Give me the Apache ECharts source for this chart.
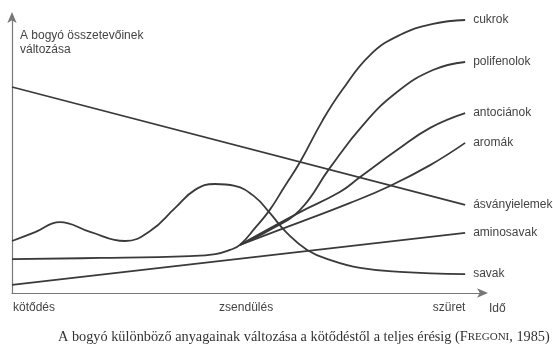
<!DOCTYPE html>
<html>
<head>
<meta charset="utf-8">
<script src="https://cdn.jsdelivr.net/npm/echarts@6/dist/echarts.min.js"></script>
<style>
html,body{margin:0;padding:0;background:#fff;}
#container1{width:553px;height:351px;}
</style>
</head>
<body>
<div id="container1"></div>
<script>
// idő (x) és változás (y) értékek, 0-100 skálán
var cukrok=[[0,12.2],[18.6,12.6],[37.6,13.3],[43.0,14.0],[46.1,15.5],[48.2,17.3],[51.4,23.4],[54.5,29.9],[57.7,38.5],[60.9,47.1],[65.7,62.2],[69.8,73.0],[75.7,85.6],[82.0,92.8],[89.0,96.8],[95.8,98.2]];
var polifenolok=[[48.2,17.3],[54.5,22.7],[60.9,29.9],[67.2,45.0],[74.2,60.4],[81.4,72.3],[89.0,80.2],[95.8,83.1]];
var antocianok=[[48.2,17.3],[60.9,29.1],[69.3,36.3],[73.6,41.7],[81.4,51.4],[88.4,59.4],[95.8,64.7]];
var aromak=[[48.2,17.3],[60.9,25.5],[71.5,32.4],[79.9,38.5],[88.4,46.0],[95.8,54.0]];
var asvanyielemek=[[0,74.1],[95.8,31.7]];
var aminosavak=[[0,2.9],[95.8,21.6]];
var savak=[[0,18.7],[4.9,21.9],[10.1,25.5],[16.5,22.0],[23.9,18.7],[29.2,22.3],[34.5,30.6],[38.7,37.1],[42.9,39.2],[47.1,38.5],[51.4,34.5],[54.5,28.8],[58.1,21.6],[62.4,15.5],[67.2,11.9],[73.6,9.0],[82.0,7.6],[95.8,6.8]];

var seriesNames=['cukrok','polifenolok','antociánok','aromák','ásványielemek','aminosavak','savak'];
var seriesData=[cukrok,polifenolok,antocianok,aromak,asvanyielemek,aminosavak,savak];

var timeNames=['kötődés','zsendülés','szüret'];
var timeValues=[4.65,49.5,92.4];

var textColor='#444';
var lineColor='#3a3a3a';
var font='"Liberation Sans", Arial, sans-serif';

var series=[];
for(var i=0;i<seriesNames.length;++i){
	series.push({
		name:seriesNames[i],
		type:'line',
		smooth:0.45,
		symbol:'none',
		data:seriesData[i],
		lineStyle:{color:lineColor,width:1.8},
		endLabel:{
			show:true,
			formatter:'{a}',
			distance:8,
			color:textColor,
			fontSize:12,
			fontFamily:font
		}
	});
}

var myChart=echarts.init(document.getElementById('container1'));
var option={
	animation:false,
	backgroundColor:'#fff',
	grid:{left:12,right:68,top:15,bottom:58},
	xAxis:{
		type:'value',
		min:0,
		max:100,
		name:'Idő',
		nameLocation:'end',
		nameGap:4,
		nameTextStyle:{color:textColor,fontSize:12,fontFamily:font,verticalAlign:'top',padding:[10,0,0,0]},
		axisLine:{show:true,lineStyle:{color:'#777',width:1.2},symbol:['none','arrow'],symbolSize:[7,11],symbolOffset:[0,3]},
		axisTick:{show:false},
		splitLine:{show:false},
		axisLabel:{
			customValues:timeValues,
			margin:9,
			color:textColor,
			fontSize:12,
			fontFamily:font,
			formatter:function(v){
				for(var k=0;k<timeValues.length;++k){
					if(Math.abs(timeValues[k]-v)<0.01) return timeNames[k];
				}
				return '';
			}
		}
	},
	yAxis:{
		type:'value',
		min:0,
		max:100,
		name:'A bogyó összetevőinek\nváltozása',
		nameLocation:'end',
		nameGap:-14,
		nameTextStyle:{color:textColor,fontSize:12,fontFamily:font,align:'left',verticalAlign:'top',lineHeight:14,padding:[0,0,0,8]},
		axisLine:{show:true,lineStyle:{color:'#777',width:1.2},symbol:['none','arrow'],symbolSize:[7,11],symbolOffset:[0,3]},
		axisTick:{show:false},
		axisLabel:{show:false},
		splitLine:{show:false}
	},
	graphic:[{
		type:'text',
		left:58,
		top:330,
		style:{
			text:'A bogyó különböző anyagainak változása a kötődéstől a teljes érésig ({a|F}{b|REGONI}, 1985)',
			fill:'#333',
			font:'14.3px "Liberation Serif", "Times New Roman", serif',
			rich:{
				a:{fontSize:14.3,fontFamily:'"Liberation Serif", serif',fill:'#333'},
				b:{fontSize:11,fontFamily:'"Liberation Serif", serif',fill:'#333'}
			}
		}
	}],
	series:series
};
myChart.setOption(option);
</script>
</body>
</html>
